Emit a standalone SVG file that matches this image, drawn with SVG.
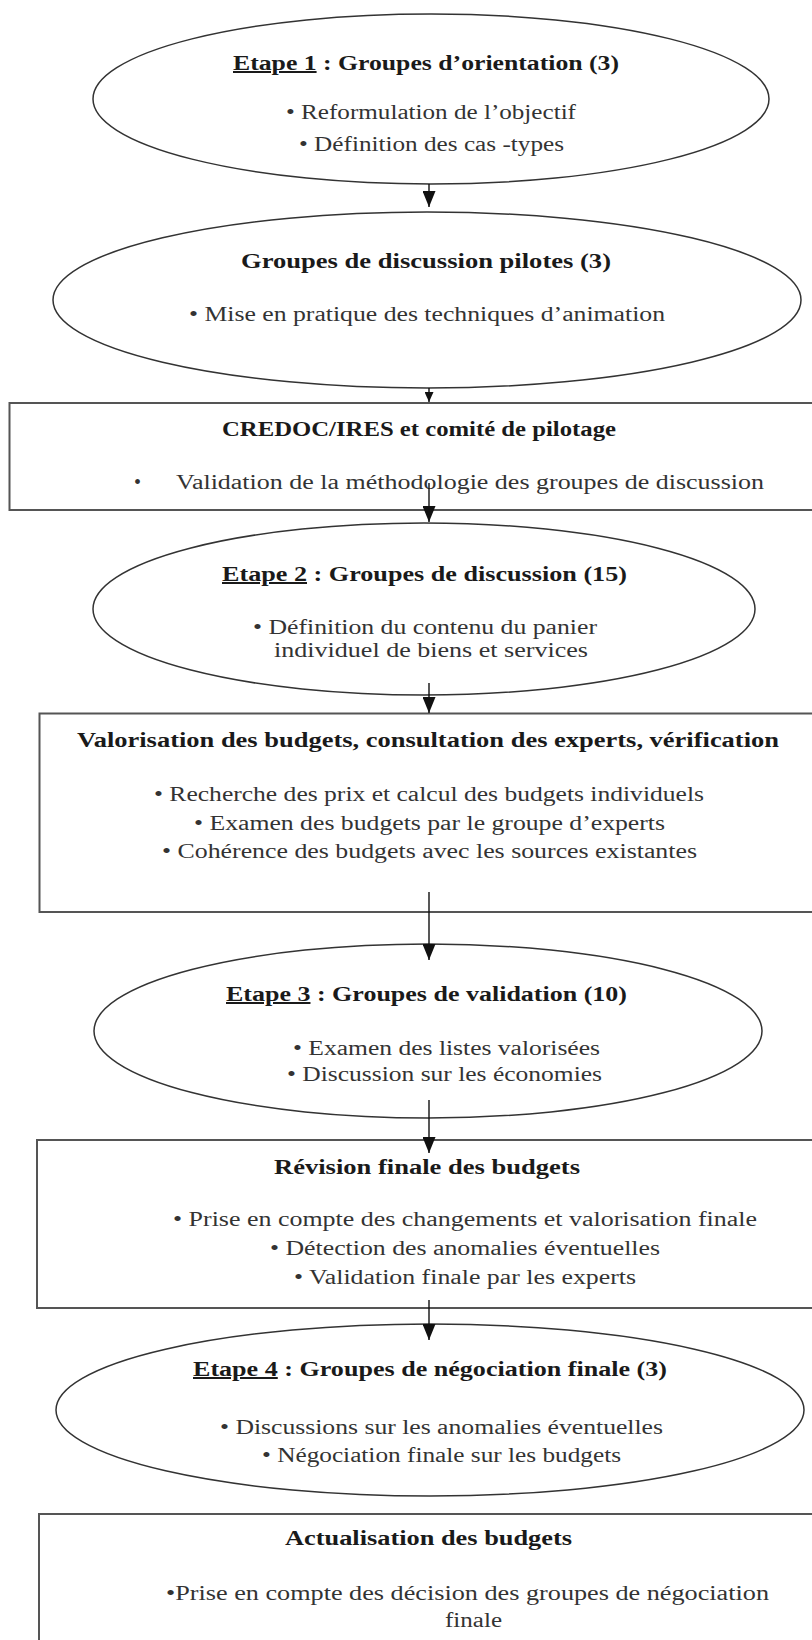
<svg xmlns="http://www.w3.org/2000/svg" width="812" height="1640" viewBox="0 0 812 1640">
<defs>
<style>
.bg{fill:#fff}
.ell{fill:none;stroke:#333;stroke-width:1.5}
.box{fill:none;stroke:#555;stroke-width:2}
.t{font-family:"Liberation Serif","Times New Roman",serif;font-size:20px;fill:#333;text-anchor:middle}
.b{font-weight:bold;fill:#1a1a1a}
.u{text-decoration:underline}
.s{font-family:"Liberation Serif","Times New Roman",serif;font-size:20px;fill:#333}
.con{stroke:#111;stroke-width:1.4;fill:none}
</style>
<marker id="ah" viewBox="0 0 16 13" refX="16" refY="6.5" markerWidth="16" markerHeight="13" markerUnits="userSpaceOnUse" orient="auto">
<path d="M0,0 L16,6.5 L0,13 Z" fill="#111"/>
</marker>
<marker id="ahs" viewBox="0 0 10 9" refX="10" refY="4.5" markerWidth="10" markerHeight="9" markerUnits="userSpaceOnUse" orient="auto">
<path d="M0,0 L10,4.5 L0,9 Z" fill="#111"/>
</marker>
</defs>
<rect class="bg" x="0" y="0" width="812" height="1640"/>

<g id="n1">
<ellipse class="ell" cx="431" cy="99" rx="338" ry="85"/>
<text class="t b" x="426" y="70" textLength="386" lengthAdjust="spacingAndGlyphs"><tspan class="u">Etape 1</tspan> : Groupes d’orientation (3)</text>
<text class="t" x="431" y="119" textLength="290" lengthAdjust="spacingAndGlyphs">• Reformulation de l’objectif</text>
<text class="t" x="431.5" y="151" textLength="265" lengthAdjust="spacingAndGlyphs">• Définition des cas -types</text>
</g>

<g id="n2">
<ellipse class="ell" cx="427" cy="300" rx="374" ry="88"/>
<text class="t b" x="426" y="268" textLength="370" lengthAdjust="spacingAndGlyphs">Groupes de discussion pilotes (3)</text>
<text class="t" x="427" y="321" textLength="476" lengthAdjust="spacingAndGlyphs">• Mise en pratique des techniques d’animation</text>
</g>

<g id="n3">
<rect class="box" x="9.5" y="403" width="820" height="107"/>
<text class="t b" x="419" y="436" textLength="394" lengthAdjust="spacingAndGlyphs">CREDOC/IRES et comité de pilotage</text>
<text class="s" x="134" y="489">•</text>
<text class="s" x="176" y="489" textLength="588" lengthAdjust="spacingAndGlyphs">Validation de la méthodologie des groupes de discussion</text>
</g>

<g id="n4">
<ellipse class="ell" cx="424" cy="609" rx="331" ry="86"/>
<text class="t b" x="424.5" y="581" textLength="405" lengthAdjust="spacingAndGlyphs"><tspan class="u">Etape 2</tspan> : Groupes de discussion (15)</text>
<text class="t" x="425" y="634" textLength="344" lengthAdjust="spacingAndGlyphs">• Définition du contenu du panier</text>
<text class="t" x="431" y="657" textLength="314" lengthAdjust="spacingAndGlyphs">individuel de biens et services</text>
</g>

<g id="n5">
<rect class="box" x="39.5" y="713.5" width="790" height="198.5"/>
<text class="t b" x="428" y="747" textLength="702" lengthAdjust="spacingAndGlyphs">Valorisation des budgets, consultation des experts, vérification</text>
<text class="t" x="429" y="801" textLength="550" lengthAdjust="spacingAndGlyphs">• Recherche des prix et calcul des budgets individuels</text>
<text class="t" x="429.5" y="830" textLength="471" lengthAdjust="spacingAndGlyphs">• Examen des budgets par le groupe d’experts</text>
<text class="t" x="429.5" y="858" textLength="535" lengthAdjust="spacingAndGlyphs">• Cohérence des budgets avec les sources existantes</text>
</g>

<g id="n6">
<ellipse class="ell" cx="428" cy="1031" rx="334" ry="87"/>
<text class="t b" x="426.5" y="1001" textLength="401" lengthAdjust="spacingAndGlyphs"><tspan class="u">Etape 3</tspan> : Groupes de validation (10)</text>
<text class="t" x="446.5" y="1055" textLength="307" lengthAdjust="spacingAndGlyphs">• Examen des listes valorisées</text>
<text class="t" x="444.5" y="1081" textLength="315" lengthAdjust="spacingAndGlyphs">• Discussion sur les économies</text>
</g>

<g id="n7">
<rect class="box" x="37" y="1140" width="790" height="168"/>
<text class="t b" x="427" y="1174" textLength="306" lengthAdjust="spacingAndGlyphs">Révision finale des budgets</text>
<text class="t" x="465" y="1226" textLength="584" lengthAdjust="spacingAndGlyphs">• Prise en compte des changements et valorisation finale</text>
<text class="t" x="465" y="1255" textLength="390" lengthAdjust="spacingAndGlyphs">• Détection des anomalies éventuelles</text>
<text class="t" x="465" y="1284" textLength="342" lengthAdjust="spacingAndGlyphs">• Validation finale par les experts</text>
</g>

<g id="n8">
<ellipse class="ell" cx="430" cy="1410" rx="374" ry="86"/>
<text class="t b" x="430" y="1376" textLength="474" lengthAdjust="spacingAndGlyphs"><tspan class="u">Etape 4</tspan> : Groupes de négociation finale (3)</text>
<text class="t" x="441.5" y="1434" textLength="443" lengthAdjust="spacingAndGlyphs">• Discussions sur les anomalies éventuelles</text>
<text class="t" x="441.5" y="1462" textLength="359" lengthAdjust="spacingAndGlyphs">• Négociation finale sur les budgets</text>
</g>

<g id="n9">
<rect class="box" x="39" y="1514" width="790" height="160"/>
<text class="t b" x="428.5" y="1545" textLength="287" lengthAdjust="spacingAndGlyphs">Actualisation des budgets</text>
<text class="t" x="467.5" y="1600" textLength="603" lengthAdjust="spacingAndGlyphs">•Prise en compte des décision des groupes de négociation</text>
<text class="t" x="473.5" y="1627" textLength="57" lengthAdjust="spacingAndGlyphs">finale</text>
</g>

<g id="connectors">
<line class="con" x1="429" y1="184" x2="429" y2="207" marker-end="url(#ah)"/>
<line class="con" x1="429" y1="388" x2="429" y2="402" marker-end="url(#ahs)"/>
<line class="con" x1="429" y1="483" x2="429" y2="522" marker-end="url(#ah)"/>
<line class="con" x1="429" y1="683" x2="429" y2="713" marker-end="url(#ah)"/>
<line class="con" x1="429" y1="892" x2="429" y2="960" marker-end="url(#ah)"/>
<line class="con" x1="429" y1="1100" x2="429" y2="1153" marker-end="url(#ah)"/>
<line class="con" x1="429" y1="1300" x2="429" y2="1340" marker-end="url(#ah)"/>
</g>
</svg>
